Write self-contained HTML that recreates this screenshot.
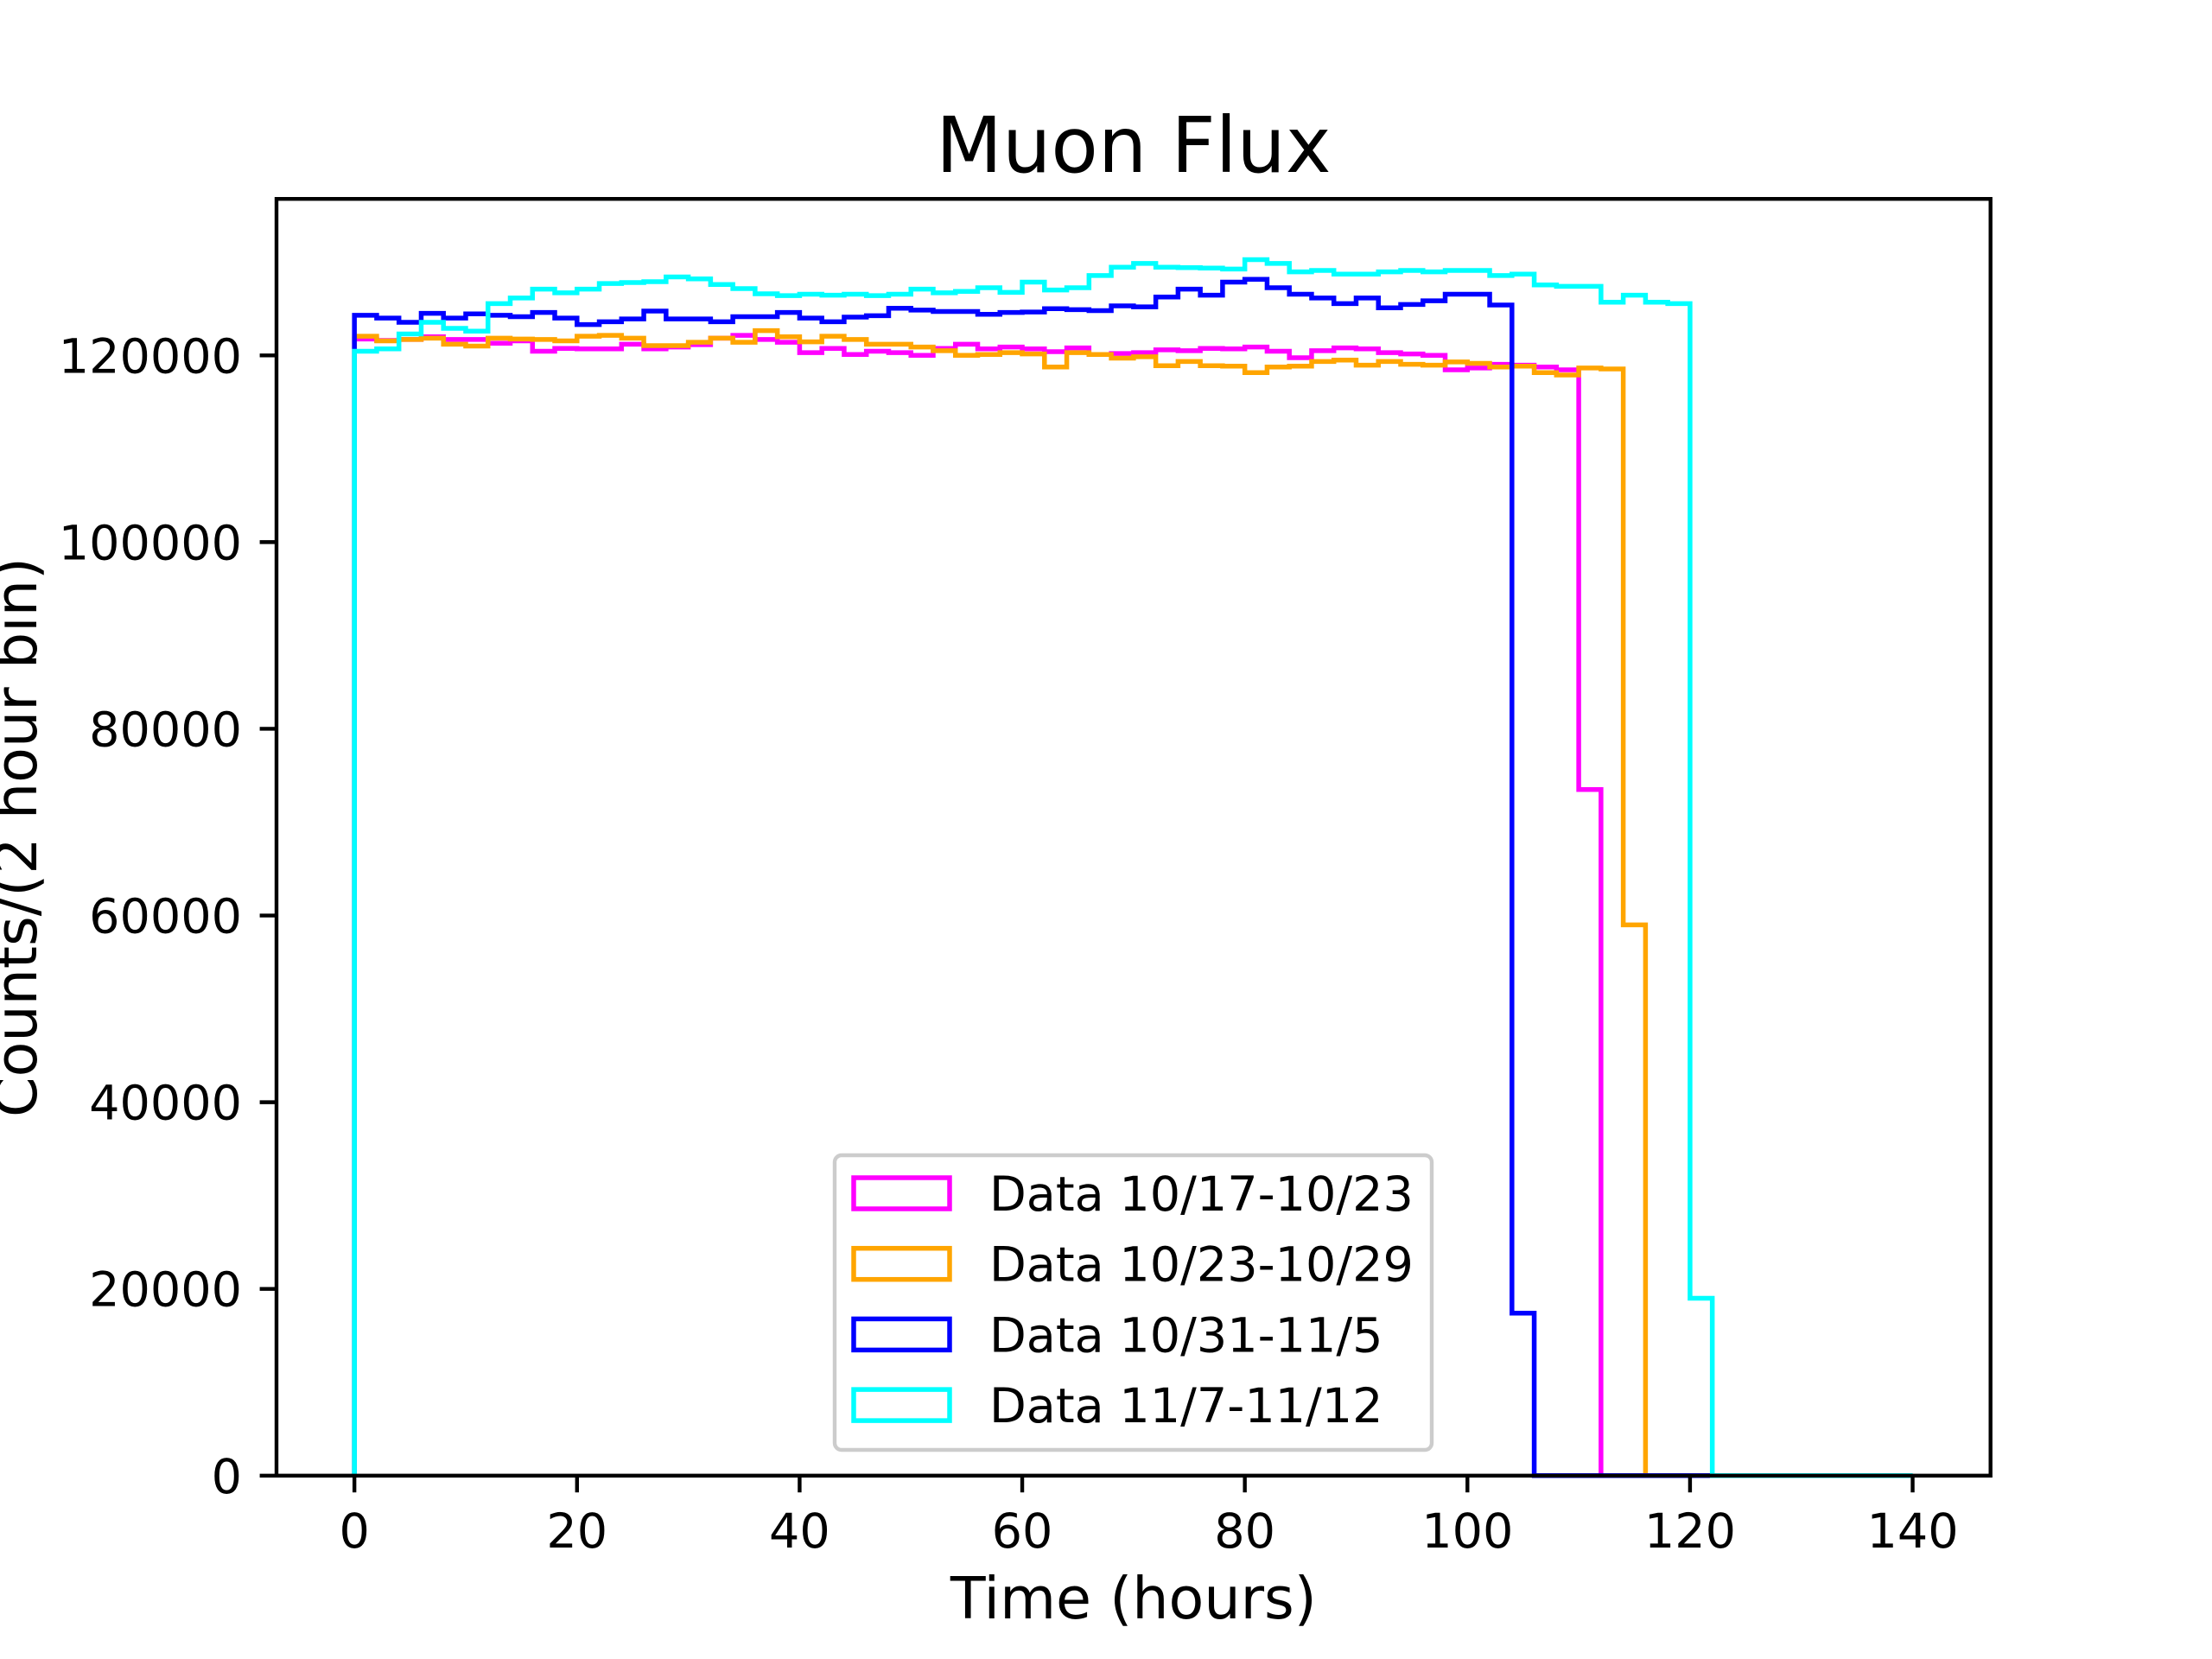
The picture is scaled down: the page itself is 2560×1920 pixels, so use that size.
<!DOCTYPE html>
<html><head><meta charset="utf-8"><style>
html,body{margin:0;padding:0;background:#fff;}
svg{display:block;font-family:"DejaVu Sans","Liberation Sans",sans-serif;}
</style></head><body>
<svg id="chart" width="2560" height="1920" viewBox="0 0 2560 1920" xmlns="http://www.w3.org/2000/svg">
<rect width="2560" height="1920" fill="#fff"/>
<g id="plot"></g>
</svg>
<script>
const binWidth = 2;
const nBins = 70;
const seriesLabels = ["Data 10/17-10/23","Data 10/23-10/29","Data 10/31-11/5","Data 11/7-11/12"];
const seriesColors = ["#ff00ff","#ffa500","#0000ff","#00ffff"];
const magenta = [121750,121600,121700,122000,121700,121700,121300,121550,120450,120750,120700,120700,121200,120700,120900,121150,121850,122150,121700,121400,120300,120750,120100,120450,120300,120000,120750,121200,120700,120900,120700,120400,120800,120100,120200,120300,120600,120500,120750,120700,120900,120450,119750,120500,120800,120700,120300,120150,120000,118450,118650,119050,118950,118750,118450,73500];
const orange = [122050,121550,121700,121850,121200,121000,121850,121750,121700,121550,122050,122150,121850,121050,121050,121400,121850,121400,122650,122000,121450,122050,121700,121200,121200,120900,120500,120000,120100,120300,120150,118750,120300,120100,119700,119850,118900,119350,118900,118850,118150,118750,118850,119350,119500,118950,119350,119050,118950,119300,119150,118750,118850,118150,117900,118650,118550,59000];
const blue = [124300,124000,123550,124500,124000,124450,124300,124150,124600,124000,123300,123600,123900,124750,123900,123900,123600,124150,124150,124600,124000,123600,124100,124250,125050,124850,124700,124700,124400,124600,124650,125000,124900,124800,125300,125200,126250,127100,126450,127850,128150,127250,126550,126150,125550,126150,125100,125450,125850,126550,126550,125400,17400];
const cyan = [120450,120700,122300,123550,122900,122600,125550,126150,127100,126700,127100,127700,127800,127900,128400,128200,127600,127150,126600,126400,126550,126450,126550,126400,126550,127100,126700,126850,127250,126750,127850,127000,127250,128550,129450,129850,129450,129400,129350,129250,130250,129850,128950,129100,128700,128700,128950,129100,128950,129100,129100,128550,128700,127550,127400,127400,125700,126450,125700,125550,19000];
const xTicks = [0,20,40,60,80,100,120,140];
const yTicks = [0,20000,40000,60000,80000,100000,120000];

const NS = "http://www.w3.org/2000/svg";
const AX = {l:320, r:2303.7, t:230.2, b:1707.8};
const xMax = nBins*binWidth;
const xMin = -0.05*xMax, xMaxPad = xMax + 0.05*xMax;
const allSeries = [magenta, orange, blue, cyan];
const dataMax = Math.max(...allSeries.map(s => Math.max(...s)));
const yMax = dataMax*1.05;
const X = h => AX.l + (h - xMin)/(xMaxPad - xMin)*(AX.r - AX.l);
const Y = v => AX.b - v/yMax*(AX.b - AX.t);
const plot = document.getElementById('plot');
function mk(tag, attrs){ const e = document.createElementNS(NS, tag); for (const k in attrs) e.setAttribute(k, attrs[k]); return e; }

const seriesNames = ["series-10-17","series-10-23","series-10-31","series-11-07"];
allSeries.forEach((s, i) => {
  let d = "M" + X(0) + "," + Y(0);
  for (let k = 0; k < nBins; k++) {
    const v = k < s.length ? s[k] : 0;
    d += " L" + X(k*binWidth) + "," + Y(v) + " L" + X((k+1)*binWidth) + "," + Y(v);
  }
  d += " L" + X(nBins*binWidth) + "," + Y(0);
  const p = mk('path', {d: d, fill: 'none', stroke: seriesColors[i], 'stroke-width': 5.5, 'stroke-linejoin': 'miter'});
  
  
  plot.appendChild(p);
});

const frame = mk('rect', {x: AX.l, y: AX.t, width: AX.r-AX.l, height: AX.b-AX.t, fill: 'none', stroke: '#000', 'stroke-width': 4.4});


plot.appendChild(frame);

xTicks.forEach(t => {
  const x = X(t);
  const ln = mk('line', {x1: x, x2: x, y1: AX.b, y2: AX.b+19.4, stroke: '#000', 'stroke-width': 4.4});
  
  
  plot.appendChild(ln);
  const tx = mk('text', {x: x, y: 1791, 'text-anchor': 'middle', 'font-size': 55.6, fill: '#000'});
  tx.textContent = t;
  
  
  plot.appendChild(tx);
});
yTicks.forEach(t => {
  const y = Y(t);
  const ln = mk('line', {x1: AX.l-19.4, x2: AX.l, y1: y, y2: y, stroke: '#000', 'stroke-width': 4.4});
  
  
  plot.appendChild(ln);
  const tx = mk('text', {x: 280, y: y+20, 'text-anchor': 'end', 'font-size': 55.6, fill: '#000'});
  tx.textContent = t;
  
  
  plot.appendChild(tx);
});

const title = mk('text', {x: (AX.l+AX.r)/2, y: 199, 'text-anchor': 'middle', 'font-size': 89, fill: '#000'});
title.textContent = "Muon Flux";


plot.appendChild(title);
const xl = mk('text', {x: (AX.l+AX.r)/2, y: 1873, 'text-anchor': 'middle', 'font-size': 66.7, fill: '#000'});
xl.textContent = "Time (hours)";


plot.appendChild(xl);
const yc = (AX.t+AX.b)/2;
const yl = mk('text', {x: 42, y: yc, 'text-anchor': 'middle', 'font-size': 66.7, fill: '#000', transform: 'rotate(-90 42 ' + yc + ')'});
yl.textContent = "Counts/(2 hour bin)";


plot.appendChild(yl);

const lg = mk('g', {});


plot.appendChild(lg);
const box = mk('rect', {x: 966, y: 1337, width: 691, height: 341, rx: 8, fill: '#fff', 'fill-opacity': 0.8, stroke: '#cccccc', 'stroke-width': 4.4});


lg.appendChild(box);
seriesLabels.forEach((lab, i) => {
  const cy = 1381 + i*81.7;
  const r = mk('rect', {x: 988, y: cy-18, width: 111, height: 36, fill: 'none', stroke: seriesColors[i], 'stroke-width': 5.5});
  
  
  lg.appendChild(r);
  const t = mk('text', {x: 1145, y: cy+20, 'font-size': 55.6, fill: '#000'});
  t.textContent = lab;
  
  
  lg.appendChild(t);
});
</script>
</body></html>
